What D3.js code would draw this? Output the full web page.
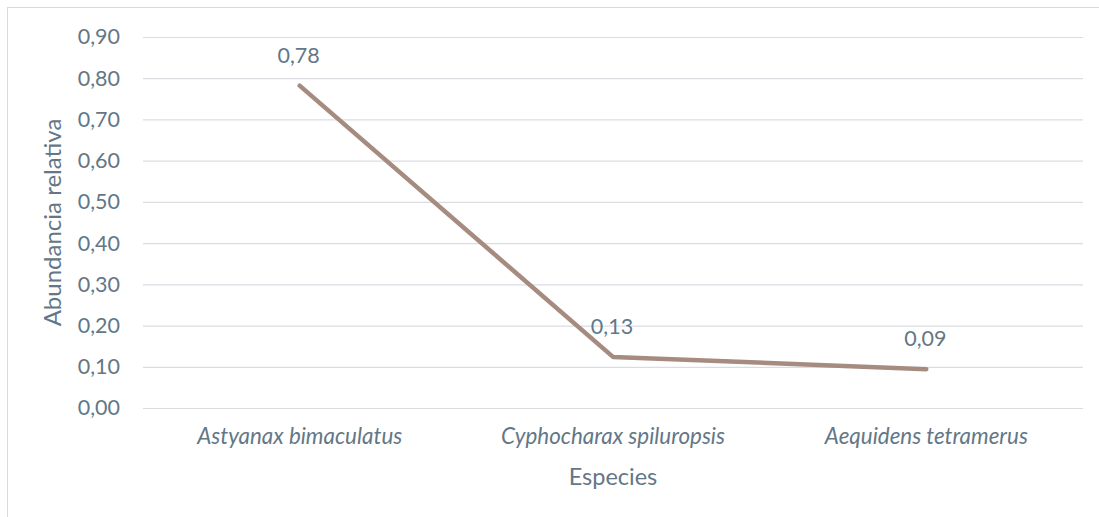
<!DOCTYPE html>
<html><head><meta charset="utf-8">
<script src="https://cdn.jsdelivr.net/npm/d3@7"></script>
<style>html,body{margin:0;padding:0;background:#fff;}svg{display:block;}</style>
</head><body>
<svg id="c" width="1099" height="517"></svg>
<script>
const categories = ["Astyanax bimaculatus", "Cyphocharax spiluropsis", "Aequidens tetramerus"];
const values = [0.782, 0.124, 0.094];
const valueLabels = ["0,78", "0,13", "0,09"];
const yTicks = [0, 0.1, 0.2, 0.3, 0.4, 0.5, 0.6, 0.7, 0.8, 0.9];
const xTitle = "Especies";
const yTitle = "Abundancia relativa";

const W = 1099, H = 517;
const m = {left: 143, right: 16, top: 37, bottom: 109};
const svg = d3.select("#c");
const font = "Lato, 'Open Sans', sans-serif";
const textColor = "#637787";
const fs = 21.5;

svg.append("rect").attr("x", 7.5).attr("y", 7.5).attr("width", W).attr("height", H)
  .attr("fill", "#fff").attr("stroke", "#d9d9d9").attr("stroke-width", 1);

const x = d3.scaleBand().domain(categories).range([m.left, W - m.right]);
const y = d3.scaleLinear().domain([0, 0.9]).range([H - m.bottom, m.top]);

const fmt = d => d3.format(".2f")(d).replace(".", ",");

const yAxis = d3.axisLeft(y).tickValues(yTicks).tickFormat(fmt)
  .tickSize(-(W - m.right - m.left)).tickPadding(23);
const gy = svg.append("g").attr("transform", `translate(${m.left},0)`).call(yAxis);
gy.select(".domain").remove();
gy.selectAll(".tick line").attr("stroke", "#d9dde2").attr("stroke-width", 1.2);
gy.selectAll(".tick text").attr("fill", textColor).attr("font-family", font)
  .attr("font-size", fs);

const xAxis = d3.axisBottom(x).tickSize(0).tickPadding(20);
const gx = svg.append("g").attr("transform", `translate(0,${H - m.bottom})`).call(xAxis);
gx.select(".domain").remove();
gx.selectAll(".tick text").attr("fill", textColor).attr("font-family", font)
  .attr("font-size", 22.4).attr("font-style", "italic");

const line = d3.line().x((d, i) => x(categories[i]) + x.bandwidth() / 2).y(d => y(d));
svg.append("path").datum(values).attr("d", line).attr("fill", "none")
  .attr("stroke", "#a68c80").attr("stroke-width", 4.5)
  .attr("stroke-linecap", "round").attr("stroke-linejoin", "round");

svg.append("g").selectAll("text").data(values).join("text")
  .attr("x", (d, i) => x(categories[i]) + x.bandwidth() / 2 - 1)
  .attr("y", d => y(d) - 23)
  .attr("text-anchor", "middle").attr("fill", textColor)
  .attr("font-family", font).attr("font-size", fs)
  .text((d, i) => valueLabels[i]);

svg.append("text").attr("x", (m.left + W - m.right) / 2).attr("y", 485)
  .attr("text-anchor", "middle").attr("fill", textColor)
  .attr("font-family", font).attr("font-size", 23.5).text(xTitle);
svg.append("text").attr("transform", `translate(61,${(m.top + H - m.bottom) / 2}) rotate(-90)`)
  .attr("text-anchor", "middle").attr("fill", textColor)
  .attr("font-family", font).attr("font-size", 24).text(yTitle);
</script>
</body></html>
